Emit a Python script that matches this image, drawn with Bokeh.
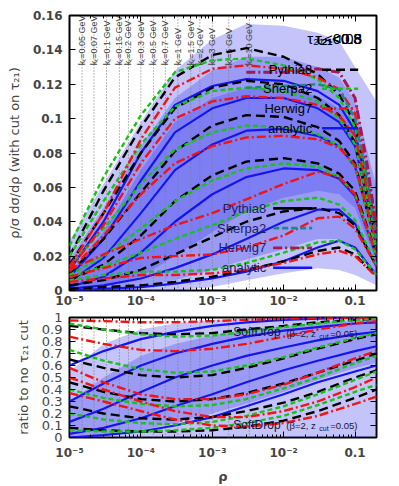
from math import pi
from bokeh.plotting import figure
from bokeh.layouts import column
from bokeh.models import FixedTicker, CustomJSTickFormatter, LogAxis, LinearAxis, Label
from bokeh.embed import file_html
from bokeh.resources import INLINE

# ---------------- data ----------------
x_top = [1e-5, 3e-5, 1e-4, 3e-4, 1e-3, 3e-3, 1e-2, 3e-2, 6e-2, 0.1, 0.2]

pythia_top = [
    [0.020, 0.058, 0.095, 0.124, 0.137, 0.141, 0.136, 0.126, 0.114, 0.097, 0.035],
    [0.015, 0.045, 0.080, 0.106, 0.118, 0.122, 0.120, 0.112, 0.102, 0.086, 0.030],
    [0.010, 0.030, 0.057, 0.081, 0.096, 0.102, 0.101, 0.095, 0.087, 0.074, 0.026],
    [0.006, 0.015, 0.032, 0.052, 0.067, 0.075, 0.077, 0.074, 0.068, 0.058, 0.021],
    [0.003, 0.006, 0.012, 0.021, 0.031, 0.040, 0.046, 0.048, 0.045, 0.038, 0.014],
    [0.001, 0.002, 0.003, 0.005, 0.008, 0.012, 0.017, 0.023, 0.025, 0.021, 0.008],
]
sherpa_top = [
    [0.026, 0.066, 0.102, 0.127, 0.134, 0.135, 0.131, 0.123, 0.112, 0.095, 0.034],
    [0.020, 0.052, 0.085, 0.107, 0.116, 0.118, 0.116, 0.110, 0.100, 0.085, 0.030],
    [0.014, 0.036, 0.062, 0.082, 0.092, 0.096, 0.095, 0.091, 0.084, 0.072, 0.025],
    [0.009, 0.020, 0.036, 0.052, 0.064, 0.071, 0.074, 0.072, 0.066, 0.056, 0.020],
    [0.008, 0.014, 0.022, 0.030, 0.038, 0.046, 0.052, 0.054, 0.050, 0.041, 0.015],
    [0.006, 0.009, 0.011, 0.011, 0.012, 0.016, 0.022, 0.028, 0.029, 0.024, 0.009],
]
herwig_top = [
    [0.014, 0.045, 0.088, 0.118, 0.129, 0.131, 0.129, 0.124, 0.117, 0.103, 0.040],
    [0.012, 0.038, 0.074, 0.100, 0.110, 0.113, 0.112, 0.108, 0.102, 0.090, 0.035],
    [0.011, 0.032, 0.056, 0.074, 0.084, 0.089, 0.090, 0.088, 0.083, 0.073, 0.028],
    [0.012, 0.021, 0.030, 0.038, 0.045, 0.053, 0.062, 0.069, 0.066, 0.056, 0.021],
    [0.008, 0.013, 0.019, 0.020, 0.021, 0.025, 0.032, 0.042, 0.043, 0.036, 0.014],
    [0.005, 0.007, 0.009, 0.009, 0.010, 0.012, 0.016, 0.021, 0.023, 0.020, 0.008],
]
analytic_top = [
    [0.012, 0.040, 0.080, 0.108, 0.119, 0.123, 0.122, 0.116, 0.108, 0.093, 0.033],
    [0.008, 0.030, 0.064, 0.092, 0.106, 0.112, 0.112, 0.106, 0.098, 0.084, 0.030],
    [0.005, 0.019, 0.045, 0.070, 0.085, 0.093, 0.094, 0.090, 0.084, 0.072, 0.026],
    [0.002, 0.008, 0.022, 0.040, 0.056, 0.066, 0.071, 0.070, 0.065, 0.055, 0.020],
    [0.001, 0.003, 0.007, 0.013, 0.021, 0.030, 0.040, 0.047, 0.047, 0.039, 0.014],
    [0.000, 0.001, 0.002, 0.004, 0.007, 0.011, 0.017, 0.025, 0.029, 0.025, 0.009],
]
band_top_lo = [
    [0.000, 0.000, 0.000, 0.000, 0.002, 0.006, 0.010, 0.013, 0.012, 0.009, 0.003],
    [0.000, 0.000, 0.002, 0.006, 0.012, 0.018, 0.024, 0.030, 0.030, 0.025, 0.008],
    [0.000, 0.002, 0.008, 0.020, 0.034, 0.046, 0.054, 0.058, 0.056, 0.048, 0.016],
]
band_top_hi = [
    [0.029, 0.062, 0.098, 0.128, 0.146, 0.155, 0.154, 0.150, 0.145, 0.130, 0.110],
    [0.018, 0.048, 0.084, 0.112, 0.128, 0.136, 0.136, 0.130, 0.124, 0.110, 0.060],
    [0.010, 0.034, 0.070, 0.098, 0.112, 0.118, 0.118, 0.113, 0.106, 0.092, 0.040],
]
# second overlaid set (teal / maroon)
x_alt = [3e-3, 1e-2, 3e-2, 6e-2, 0.1, 0.15, 0.2]
maroon_top = [0.127, 0.127, 0.129, 0.127, 0.112, 0.072, 0.036]
teal_top = [0.118, 0.119, 0.120, 0.117, 0.100, 0.064, 0.030]

x_bot = [1e-5, 3e-5, 1e-4, 3e-4, 1e-3, 3e-3, 1e-2, 3e-2, 0.1, 0.2]
pythia_bot = [
    [0.93, 0.90, 0.87, 0.86, 0.87, 0.90, 0.93, 0.96, 0.98, 0.99],
    [0.65, 0.58, 0.52, 0.50, 0.52, 0.58, 0.66, 0.74, 0.82, 0.86],
    [0.46, 0.38, 0.32, 0.30, 0.32, 0.37, 0.45, 0.54, 0.64, 0.70],
    [0.26, 0.20, 0.16, 0.15, 0.17, 0.22, 0.29, 0.38, 0.50, 0.56],
    [0.08, 0.06, 0.05, 0.05, 0.06, 0.09, 0.14, 0.22, 0.33, 0.40],
]
sherpa_bot = [
    [0.95, 0.90, 0.86, 0.84, 0.85, 0.88, 0.92, 0.95, 0.98, 0.99],
    [0.73, 0.64, 0.57, 0.54, 0.55, 0.60, 0.67, 0.75, 0.83, 0.87],
    [0.40, 0.33, 0.28, 0.26, 0.27, 0.32, 0.41, 0.50, 0.62, 0.68],
    [0.20, 0.15, 0.12, 0.11, 0.13, 0.18, 0.26, 0.36, 0.48, 0.55],
    [0.06, 0.05, 0.05, 0.06, 0.08, 0.12, 0.18, 0.27, 0.38, 0.44],
]
herwig_bot = [
    [0.975, 0.97, 0.96, 0.96, 0.97, 0.98, 0.99, 0.995, 1.0, 1.0],
    [0.84, 0.78, 0.73, 0.72, 0.74, 0.78, 0.84, 0.90, 0.95, 0.97],
    [0.58, 0.46, 0.36, 0.32, 0.32, 0.36, 0.44, 0.54, 0.66, 0.72],
    [0.50, 0.40, 0.30, 0.22, 0.17, 0.17, 0.22, 0.30, 0.42, 0.50],
    [0.37, 0.30, 0.22, 0.15, 0.10, 0.09, 0.12, 0.18, 0.28, 0.34],
]
analytic_bot = [
    [0.60, 0.72, 0.82, 0.88, 0.93, 0.96, 0.98, 0.99, 1.00, 1.00],
    [0.30, 0.45, 0.60, 0.70, 0.78, 0.84, 0.89, 0.92, 0.95, 0.96],
    [0.13, 0.24, 0.38, 0.50, 0.60, 0.68, 0.75, 0.81, 0.86, 0.88],
    [0.03, 0.08, 0.16, 0.26, 0.36, 0.46, 0.56, 0.64, 0.72, 0.76],
    [0.00, 0.02, 0.05, 0.10, 0.17, 0.26, 0.36, 0.46, 0.55, 0.60],
]
band_bot_lo = [
    [0.00, 0.00, 0.00, 0.00, 0.00, 0.00, 0.00, 0.00, 0.00, 0.00],
    [0.00, 0.02, 0.06, 0.12, 0.20, 0.28, 0.38, 0.48, 0.58, 0.62],
]
band_bot_hi = [
    [0.55, 0.78, 0.90, 0.95, 0.98, 0.99, 1.00, 1.00, 1.00, 1.00],
    [0.30, 0.50, 0.68, 0.78, 0.85, 0.90, 0.93, 0.95, 0.97, 0.98],
]

kt_rho = [1.5e-5, 2.2e-5, 3.3e-5, 5e-5, 6.7e-5, 1.0e-4, 1.5e-4, 2.2e-4,
          3.3e-4, 5e-4, 6.7e-4, 1.0e-3, 1.7e-3, 3.3e-3]
kt_labels = ["kₜ=0.05 GeV", "kₜ=0.07 GeV", "kₜ=0.1 GeV", "kₜ=0.15 GeV",
             "kₜ=0.2 GeV", "kₜ=0.3 GeV", "kₜ=0.5 GeV", "kₜ=0.7 GeV",
             "kₜ=1 GeV", "kₜ=1.5 GeV", "kₜ=2 GeV", "kₜ=3 GeV",
             "kₜ=5 GeV", "kₜ=10 GeV"]
tau_labels = ["τ₂₁<0.8", "τ₂₁<0.5", "τ₂₁<0.3", "τ₂₁<0.08"]
legend_names = ["Pythia8", "Sherpa2", "Herwig7", "analytic"]

x_major = [1e-5, 1e-4, 1e-3, 1e-2, 0.1]
x_minor = [m * 10.0 ** e for e in range(-5, 0) for m in range(2, 10)]

FONT = "DejaVu Sans"
BLUE, BLACK, GREEN, RED = "#1515f0", "#000000", "#19c219", "#f01414"
TEAL, MAROON, NAVY = "#1f8585", "#a01a55", "#1c1c6a"
BAND = "#3c3cf0"

xfmt_code = """
const e = Math.round(Math.log10(tick));
if (e == -1) return "0.1";
if (e >= 0) return String(Math.pow(10, e));
const sup = {"-":"\u207b","0":"\u2070","1":"\u00b9","2":"\u00b2","3":"\u00b3","4":"\u2074","5":"\u2075","6":"\u2076","7":"\u2077","8":"\u2078","9":"\u2079"};
return "10" + String(e).split("").map(c => sup[c]).join("");
"""
yfmt_code = """
if (Math.abs(tick) < 1e-9) return "0";
return String(parseFloat(tick.toFixed(3)));
"""


def style(p, yticks, ylab, bold_y=True):
    p.xgrid.visible = False
    p.ygrid.visible = False
    p.outline_line_color = "black"
    p.outline_line_width = 2
    xa, ya = p.below[0], p.left[0]
    xa.ticker = FixedTicker(ticks=x_major, minor_ticks=x_minor)
    xa.formatter = CustomJSTickFormatter(code=xfmt_code)
    ya.ticker = FixedTicker(ticks=yticks)
    ya.formatter = CustomJSTickFormatter(code=yfmt_code)
    for ax in (xa, ya):
        ax.major_tick_in = 6
        ax.major_tick_out = 0
        ax.minor_tick_in = 3
        ax.minor_tick_out = 0
        ax.axis_line_color = None
        ax.major_label_text_font = FONT
        ax.major_label_text_font_size = "12px"
        ax.major_label_text_font_style = "bold"
        ax.axis_label_text_font = FONT
        ax.axis_label_text_font_size = "13px"
        ax.axis_label_text_font_style = "normal"
    if not bold_y:
        ya.major_label_text_font_style = "normal"
        ya.major_label_text_font_size = "13px"
    ya.axis_label = ylab
    ya.major_label_standoff = 7
    ya.axis_label_standoff = 8
    # mirrored ticks
    top = LogAxis(ticker=FixedTicker(ticks=x_major, minor_ticks=x_minor))
    right = LinearAxis(ticker=FixedTicker(ticks=yticks))
    for ax in (top, right):
        ax.major_tick_in = 6
        ax.major_tick_out = 0
        ax.minor_tick_in = 3
        ax.minor_tick_out = 0
        ax.axis_line_color = None
        ax.major_label_text_font_size = "1px"
        ax.major_label_text_color = None
        ax.major_label_standoff = 0
    p.add_layout(top, "above")
    p.add_layout(right, "right")
    return xa, ya


def curves(p, xs, sets, color, dash, width):
    for ys in sets:
        p.line(xs, ys, line_color=color, line_dash=dash, line_width=width)


# ---------------- top panel ----------------
p1 = figure(width=399, height=310, x_axis_type="log", x_range=(1e-5, 0.2), y_range=(0, 0.16),
            output_backend="svg", toolbar_location=None,
            min_border_left=69, min_border_right=23, min_border_top=15, min_border_bottom=17)
xa1, ya1 = style(p1, [i * 0.02 for i in range(9)], "ρ/σ dσ/dρ (with cut on τ₂₁)")
xa1.major_label_standoff = 3

for lo, hi in zip(band_top_lo, band_top_hi):
    p1.varea(x=x_top, y1=lo, y2=hi, fill_color=BAND, fill_alpha=0.3)

p1.segment(x0=kt_rho, y0=[0] * len(kt_rho), x1=kt_rho, y1=[0.16] * len(kt_rho),
           line_color="#777777", line_dash="1 2", line_width=1)
p1.text(x=kt_rho, y=[0.131] * len(kt_rho), text=kt_labels, angle=pi / 2,
        text_align="left", text_baseline="middle", text_font_size="9px",
        text_color="#444444")

curves(p1, x_top, analytic_top, BLUE, "solid", 2.2)
curves(p1, x_top, pythia_top, BLACK, "9 5", 2.4)
curves(p1, x_top, sherpa_top, GREEN, "5 3", 2.4)
curves(p1, x_top, herwig_top, RED, "9 3 2 3", 2.4)
p1.line(x_alt, teal_top, line_color=TEAL, line_dash="6 3", line_width=2.4)
p1.line(x_alt, maroon_top, line_color=MAROON, line_dash="9 3 2 3", line_width=3)

# tau labels (overlaid)
p1.text(x=[0.125] * len(tau_labels), y=[0.1465] * len(tau_labels), text=tau_labels,
        text_align="right", text_baseline="middle", text_font_size="15px",
        text_color="black")

# legend 1
leg_y1 = [0.1284, 0.1174, 0.1059, 0.0944]
leg1_col = [BLACK, GREEN, RED, BLUE]
leg1_dash = ["9 5", "5 3", "9 3 2 3", "solid"]
p1.text(x=[0.0251] * 4, y=leg_y1, text=legend_names, text_align="right",
        text_baseline="middle", text_font_size="13px", text_color="black")
for yy, c, d in zip(leg_y1, leg1_col, leg1_dash):
    p1.line([0.0345, 0.1106], [yy, yy], line_color=c, line_dash=d, line_width=2.6)

# legend 2
leg_y2 = [0.0478, 0.0363, 0.0248, 0.0132]
leg2_col = [BLACK, TEAL, MAROON, BLUE]
leg2_dash = ["solid", "6 3", "9 3 2 3", "solid"]
p1.text(x=[0.00569] * 4, y=leg_y2, text=legend_names, text_align="right",
        text_baseline="middle", text_font_size="13px", text_color=NAVY)
for yy, c, d in zip(leg_y2, leg2_col, leg2_dash):
    p1.line([0.00713, 0.0251], [yy, yy], line_color=c, line_dash=d, line_width=2.6)

p1.add_layout(Label(x=318, y=93, x_units="screen", y_units="screen",
                    text="√s=13 TeV, pₜ=3 TeV, anti-kₜ(R=1)", angle=90, angle_units="deg",
                    text_align="center", text_baseline="middle",
                    text_font=FONT, text_font_size="10px", text_color="black"))

# ---------------- bottom panel ----------------
p2 = figure(width=399, height=176, x_axis_type="log", x_range=(1e-5, 0.2), y_range=(0, 1),
            output_backend="svg", toolbar_location=None,
            min_border_left=69, min_border_right=23, min_border_top=7, min_border_bottom=48)
xa2, ya2 = style(p2, [i * 0.1 for i in range(11)], "ratio to no τ₂₁ cut", bold_y=False)
xa2.axis_label = "ρ"
xa2.axis_label_text_font_style = "bold"
xa2.major_label_standoff = 8
xa2.axis_label_standoff = 6

for lo, hi in zip(band_bot_lo, band_bot_hi):
    p2.varea(x=x_bot, y1=lo, y2=hi, fill_color=BAND, fill_alpha=0.3)
p2.segment(x0=kt_rho, y0=[0] * len(kt_rho), x1=kt_rho, y1=[1] * len(kt_rho),
           line_color="#777777", line_dash="1 2", line_width=1)

curves(p2, x_bot, analytic_bot, BLUE, "solid", 2.2)
curves(p2, x_bot, pythia_bot, BLACK, "9 5", 2.4)
curves(p2, x_bot, sherpa_bot, GREEN, "5 3", 2.4)
curves(p2, x_bot, herwig_bot, RED, "9 3 2 3", 2.4)

sd_parts = ["SoftDrop", "(β=2, z", "cut", "=0.05)"]
sd_offsets = [0, 53, 86, 97]
sd_sizes = ["12px", "9.5px", "7px", "9.5px"]
sd_dy = [0, 1, 4, 1]
for yy in (0.876, 0.107):
    for part, off, size, dy in zip(sd_parts, sd_offsets, sd_sizes, sd_dy):
        p2.text(x=[1.97e-3], y=[yy], text=[part], x_offset=off, y_offset=dy,
                text_align="left", text_baseline="middle", text_font_size=size,
                text_color="#15153a")

layout = column(p1, p2)
open("out.html", "w").write(file_html(layout, INLINE))
